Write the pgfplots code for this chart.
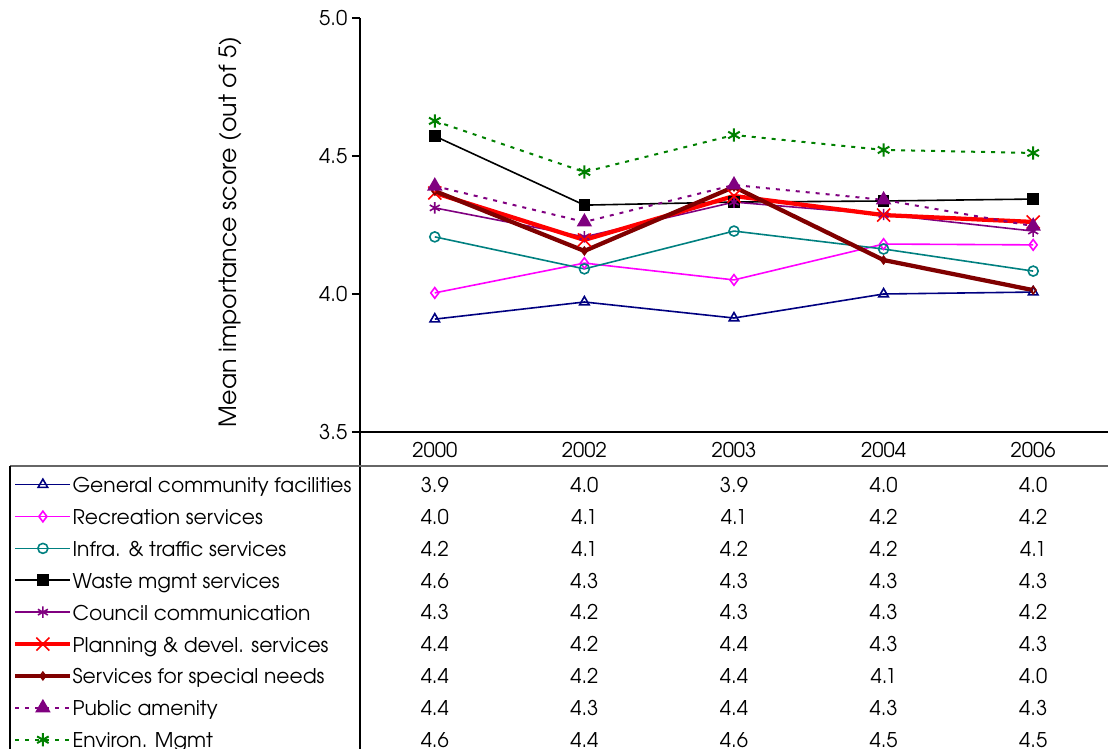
\documentclass[border=0pt]{standalone}
\usepackage{fontspec}
\setmainfont{TeX Gyre Adventor}
\usepackage{pgfplots}
\pgfplotsset{compat=1.18}
\definecolor{cnavy}{RGB}{0,0,128}
\definecolor{cmag}{RGB}{255,0,255}
\definecolor{cteal}{RGB}{0,128,128}
\definecolor{cpurp}{RGB}{128,0,128}
\definecolor{cred}{RGB}{255,0,0}
\definecolor{cdred}{RGB}{128,0,0}
\definecolor{cgreen}{RGB}{0,128,0}
\newcommand\tabfont{\fontsize{15.2pt}{17pt}\selectfont}
\begin{document}
\begin{tikzpicture}
\begin{axis}[
  scale only axis, width=561pt, height=310.5pt,
  xmin=-0.5, xmax=4.5, ymin=3.5, ymax=5,
  axis x line*=bottom, axis y line*=left,
  axis line style={black, line width=0.9pt},
  xtick={0,1,2,3,4}, xticklabels={2000,2002,2003,2004,2006},
  x tick style={draw=none},
  xticklabel style={font=\tabfont, anchor=base, yshift=-13pt},
  ytick={3.5,4,4.5,5},
  yticklabel style={font=\tabfont, /pgf/number format/.cd, fixed, fixed zerofill, precision=1, assume math mode=true},
  tick align=outside, major tick length=6pt,
  y tick style={black, line width=0.9pt},
  ylabel={Mean importance score (out of 5)},
  ylabel style={font=\fontsize{17.8pt}{19pt}\selectfont, at={(axis description cs:-0.1738,0.483)}, anchor=center},
  clip=false,
  legend cell align=left,
  legend style={draw=none, fill=none, inner sep=0pt, outer sep=0pt, row sep=0pt, column sep=0pt,
    at={(axis description cs:-0.4635,-0.0885)}, anchor=north west, font=\tabfont,
    nodes={inner sep=0pt, outer sep=0pt, text height=17.96pt, text depth=5.96pt}},
  legend image code/.code={\draw[mark repeat=2, mark phase=2] plot coordinates {(0pt,0pt) (20.6pt,0pt) (41.25pt,0pt)};},
]
\addplot[cnavy, line width=1.2pt, mark=triangle, mark size=4.1pt, mark options={solid}]
  coordinates {(0,3.909) (1,3.971) (2,3.913) (3,4.000) (4,4.007)};
\addlegendentry{General community facilities}
\addplot[cmag, line width=1.2pt, mark=diamond, mark size=4pt, mark options={solid}]
  coordinates {(0,4.004) (1,4.112) (2,4.051) (3,4.181) (4,4.178)};
\addlegendentry{Recreation services}
\addplot[cteal, line width=1.2pt, mark=o, mark size=3.75pt, mark options={solid}]
  coordinates {(0,4.207) (1,4.091) (2,4.228) (3,4.163) (4,4.083)};
\addlegendentry{Infra. \& traffic services}
\addplot[black, line width=1.2pt, mark=square*, mark size=3.75pt, mark options={solid}]
  coordinates {(0,4.572) (1,4.322) (2,4.333) (3,4.337) (4,4.344)};
\addlegendentry{Waste mgmt services}
\addplot[cpurp, line width=1.2pt, mark=asterisk, mark size=4.3pt, mark options={solid}]
  coordinates {(0,4.312) (1,4.207) (2,4.333) (3,4.288) (4,4.228)};
\addlegendentry{Council communication}
\addplot[cred, line width=3.2pt, mark=x, mark size=6.9pt, mark options={solid, line width=1.2pt}]
  coordinates {(0,4.366) (1,4.196) (2,4.355) (3,4.286) (4,4.261)};
\addlegendentry{Planning \& devel. services}
\addplot[cdred, line width=3.2pt, mark=diamond, mark size=2.8pt, mark options={solid, line width=1.2pt}]
  coordinates {(0,4.373) (1,4.156) (2,4.388) (3,4.123) (4,4.014)};
\addlegendentry{Services for special needs}
\addplot[cpurp, line width=1.5pt, dash pattern=on 3pt off 4.5pt, mark=triangle*, mark size=5.2pt, mark options={solid}]
  coordinates {(0,4.391) (1,4.261) (2,4.395) (3,4.341) (4,4.246)};
\addlegendentry{Public amenity}
\addplot[cgreen, line width=1.5pt, dash pattern=on 3pt off 4.5pt, mark=asterisk, mark size=5pt, mark options={solid}]
  coordinates {(0,4.627) (1,4.442) (2,4.576) (3,4.522) (4,4.511)};
\addlegendentry{Environ. Mgmt}
\coordinate (O) at (rel axis cs:0,0);
\pgfplotsinvokeforeach{0,1,2,3,4}{\coordinate (c#1) at (axis cs:#1,3.5);}
\end{axis}
% table decoration
\draw[black, line width=0.9pt] (O) -- ++(0,-237.75pt);
\draw[gray!80!black, line width=0.9pt] ([xshift=-262.5pt,yshift=-25.5pt]O) -- ([xshift=561pt,yshift=-25.5pt]O);
\draw[black, line width=0.9pt] ([xshift=-262.5pt,yshift=-25.5pt]O) -- ([xshift=-262.5pt,yshift=-237.75pt]O);
\foreach \row [count=\r from 0] in {
  {3.9,4.0,3.9,4.0,4.0},
  {4.0,4.1,4.1,4.2,4.2},
  {4.2,4.1,4.2,4.2,4.1},
  {4.6,4.3,4.3,4.3,4.3},
  {4.3,4.2,4.3,4.3,4.2},
  {4.4,4.2,4.4,4.3,4.3},
  {4.4,4.2,4.4,4.1,4.0},
  {4.4,4.3,4.4,4.3,4.3},
  {4.6,4.4,4.6,4.5,4.5}} {
  \foreach \v [count=\c from 0] in \row {
    \pgfmathsetmacro\dy{45.5+23.85*\r}
    \node[font=\tabfont, anchor=base, inner sep=0pt] at ([yshift=-\dy pt]c\c) {\v};
  }
}
\pgfresetboundingbox
\path[use as bounding box] ([shift={(-270pt,-237.75pt)}]O) rectangle ([shift={(561pt,324pt)}]O);
\end{tikzpicture}
\end{document}
